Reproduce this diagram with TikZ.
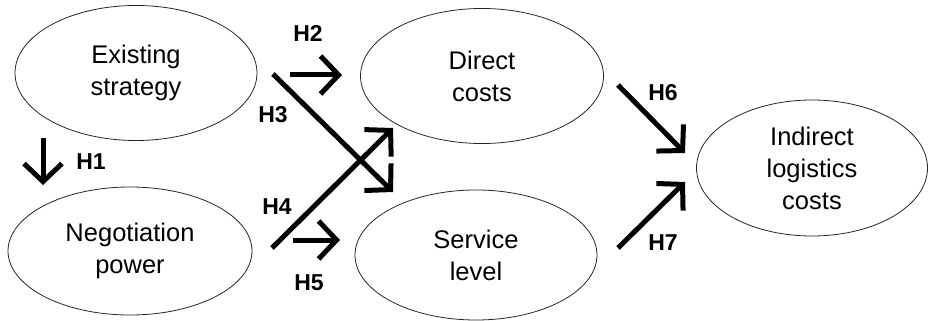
\documentclass[tikz,border=0pt]{standalone}
\usepackage{fontspec}
\setmainfont{Liberation Sans}
\usetikzlibrary{arrows.meta,shapes.geometric}
\tikzset{
  construct/.style={
    ellipse, draw=black!85, line width=0.8pt,
    inner sep=0pt, align=center,
    font=\fontsize{25.5}{32}\selectfont
  },
  hyparrow/.style={
    -{Straight Barb[sharp, length=18pt, width=38pt]}, line width=5pt
  },
  hyplabel/.style={
    font=\fontsize{23}{27}\selectfont\bfseries, inner sep=0pt
  },
}

\begin{document}
\begin{tikzpicture}[x=1pt, y=-1pt]
  \useasboundingbox (0,0) rectangle (930,321);
  % constructs
  \node[construct, minimum width=242pt, minimum height=135pt] (exist) at (136,73) {Existing\\strategy};
  \node[construct, minimum width=244pt, minimum height=128pt] (negot) at (130,251) {Negotiation\\power};
  \node[construct, minimum width=243pt, minimum height=135pt] (direct) at (482,76) {Direct\\costs};
  \node[construct, minimum width=242pt, minimum height=130pt] (service) at (476,255) {Service\\level};
  \node[construct, minimum width=231pt, minimum height=136pt] (indirect) at (812,168) {Indirect\\logistics\\costs};
  % free arrow ends
  \coordinate (h1s) at (43,138);  \coordinate (h1e) at (43,185);
  \coordinate (h2s) at (290,75);  \coordinate (h2e) at (342,75);
  \coordinate (h3s) at (273,74);  \coordinate (h3e) at (393,192);
  \coordinate (h4s) at (272,248); \coordinate (h4e) at (393,128);
  \coordinate (h5s) at (293,240); \coordinate (h5e) at (340,240);
  \coordinate (h6s) at (618,85);  \coordinate (h6e) at (685,153);
  \coordinate (h7s) at (618,248); \coordinate (h7e) at (685,182);
  % hypotheses
  \draw[hyparrow] (h1s) -- (h1e);
  \draw[hyparrow] (h2s) -- (h2e);
  \draw[hyparrow] (h3s) -- (h3e);
  \draw[hyparrow] (h4s) -- (h4e);
  \draw[hyparrow] (h5s) -- (h5e);
  \draw[hyparrow] (h6s) -- (h6e);
  \draw[hyparrow] (h7s) -- (h7e);
  \node[hyplabel] (lh1) at (91,162) {H1};
  \node[hyplabel] (lh2) at (308,33) {H2};
  \node[hyplabel] (lh3) at (273,115) {H3};
  \node[hyplabel] (lh4) at (277,207) {H4};
  \node[hyplabel] (lh5) at (309,283) {H5};
  \node[hyplabel] (lh6) at (663,93) {H6};
  \node[hyplabel] (lh7) at (663,243) {H7};
\end{tikzpicture}
\end{document}
